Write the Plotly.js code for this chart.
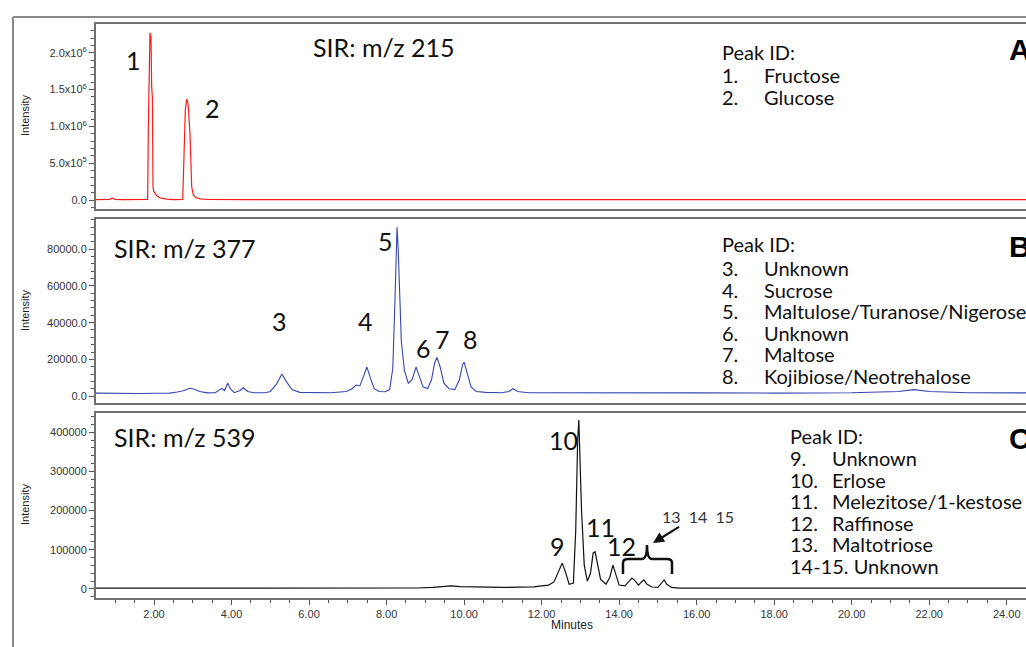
<!DOCTYPE html>
<html>
<head>
<meta charset="utf-8">
<script src="https://cdn.plot.ly/plotly-3.0.1.min.js"></script>
<style>
html,body{margin:0;padding:0;overflow:hidden;background:#fff;width:1026px;height:647px;}
#chart{width:1060px;height:647px;}
</style>
</head>
<body>
<div id="chart"></div>
<script>
// ---------- DATA ----------
// Panel A : SIR m/z 215 (red)
const timeA = [0.50,0.70,0.85,0.92,1.00,1.20,1.50,1.70,1.80,1.836,1.853,1.879,1.896,1.910,1.922,1.939,1.957,1.974,1.990,2.025,2.08,2.154,2.327,2.50,2.65,2.74,2.773,2.807,2.843,2.865,2.884,2.928,2.972,3.013,3.08,3.186,3.393,3.7,4.5,6,8,10,12,15,18,21,25.2];
const intA = [5000,5000,9000,25000,9000,5000,5000,5000,6000,9000,1000000,2100000,2270000,2250000,2200000,1550000,1400000,180000,120000,90000,55000,30000,12000,6000,5000,9000,590000,1220000,1370000,1340000,1270000,900000,180000,70000,35000,15000,7000,5000,5000,5000,5000,5000,5000,5000,5000,5000,5000];

// Panel B : SIR m/z 377 (blue)
const timeB = [0.50,0.8,1.2,1.6,2.0,2.4,2.6,2.78,2.92,3.02,3.18,3.38,3.58,3.68,3.75,3.82,3.90,3.97,4.07,4.22,4.30,4.42,4.57,4.87,5.0,5.16,5.30,5.41,5.56,5.76,6.16,6.56,6.96,7.11,7.21,7.31,7.41,7.49,7.58,7.68,7.81,7.96,8.08,8.16,8.21,8.25,8.27,8.30,8.33,8.38,8.46,8.56,8.66,8.76,8.84,8.94,9.06,9.16,9.24,9.30,9.38,9.48,9.61,9.76,9.88,9.96,10.00,10.08,10.18,10.31,10.56,10.96,11.16,11.26,11.38,11.66,12.5,14,16,18,20,21.2,21.6,22.0,23,25.2];
const intB = [1600,1500,1700,1400,1500,1600,2200,3000,4200,3800,2500,1700,1800,3500,4200,3000,7000,4000,1800,3000,4500,2500,1800,1800,2500,6500,12000,8000,3500,2000,1700,1800,2500,4000,6000,5500,11000,15800,10000,4000,2500,2300,3500,15000,48000,85000,92000,80000,58000,30000,14000,7000,9000,15800,11000,5000,4000,9000,18000,21000,16000,7000,4000,3500,9000,17000,18500,13000,5000,2500,2000,1800,2500,4000,2500,1800,1700,1800,1700,1600,1800,2500,3500,2500,1800,1700];

// Panel C : SIR m/z 539 (black)
const timeC = [0.5,2,4,6,8,8.8,9.2,9.5,9.66,9.9,10.2,10.6,11,11.4,11.8,12.0,12.18,12.32,12.42,12.53,12.61,12.71,12.82,12.88,12.93,12.96,12.99,13.03,13.1,13.18,13.26,13.33,13.38,13.44,13.52,13.66,13.76,13.84,13.92,14.0,14.15,14.25,14.33,14.40,14.5,14.58,14.64,14.72,14.85,15.0,15.1,15.16,15.23,15.35,15.55,17,20,25.2];
const intC = [2000,2000,2000,2000,2000,2500,4000,6000,8000,6000,5000,5500,4000,4500,5500,8000,10000,18000,40000,66000,45000,12000,15000,150000,380000,431000,330000,200000,60000,20000,40000,92000,95000,65000,25000,12000,30000,61000,35000,10000,8000,20000,28000,22000,10000,18000,23000,12000,5000,4000,15000,23000,12000,4000,2000,2000,2000,2000];

// Tick labels
const tickValsA = [0,500000,1000000,1500000,2000000];
const tickTextA = ["0.0","5.0x10<sup>5</sup>","1.0x10<sup>6</sup>","1.5x10<sup>6</sup>","2.0x10<sup>6</sup>"];
const tickValsB = [0,20000,40000,60000,80000];
const tickTextB = ["0.0","20000.0","40000.0","60000.0","80000.0"];
const tickValsC = [0,100000,200000,300000,400000];
const tickTextC = ["0","100000","200000","300000","400000"];

// Peak ID lists
const peakNumsA = ["1.","2."];
const peakNamesA = ["Fructose","Glucose"];
const peakNumsB = ["3.","4.","5.","6.","7.","8."];
const peakNamesB = ["Unknown","Sucrose","Maltulose/Turanose/Nigerose","Unknown","Maltose","Kojibiose/Neotrehalose"];
const peakNumsC = ["9.","10.","11.","12.","13.",""];
const peakNamesC = ["Unknown","Erlose","Melezitose/1-kestose","Raffinose","Maltotriose","14-15. Unknown"];

// ---------- LAYOUT ----------
const W=1060, H=647, L=96, R=10, T=24, B=49;
const PW=W-L-R, PH=H-T-B;
const fx = px => (px-L)/PW;
const fy = py => (H-B-py)/PH;
const lblFont = {family:"Lato, 'Open Sans', sans-serif", size:25, color:"#111"};
const idFont = {family:"Lato, 'Open Sans', sans-serif", size:20, color:"#111"};
const tickFont = {family:"'Liberation Sans Narrow','Liberation Sans', Arial, sans-serif", size:11, color:"#333"};
const bigFont = {family:"'Liberation Sans', Arial, sans-serif", size:30, color:'#000'};

const traces = [
  {x:timeA, y:intA, xaxis:'x', yaxis:'y', type:'scatter', mode:'lines', line:{color:'#ff1a1a', width:1.2}, hoverinfo:'skip'},
  {x:timeB, y:intB, xaxis:'x2', yaxis:'y2', type:'scatter', mode:'lines', line:{color:'#3646b0', width:1.1}, hoverinfo:'skip'},
  {x:timeC, y:intC, xaxis:'x3', yaxis:'y3', type:'scatter', mode:'lines', line:{color:'#111', width:1.2}, hoverinfo:'skip'}
];

const xr = [(L-76.5)/38.76, (W-R-76.5)/38.76];
function xax(anchor, showLabels){
  const a = {domain:[0,1], range:xr, anchor:anchor, showline:true, mirror:true, linecolor:'#707070', linewidth:2,
    showgrid:false, zeroline:false, fixedrange:true};
  if(showLabels){
    Object.assign(a,{ticks:'outside', ticklen:5, tickcolor:'#555', tickwidth:1, dtick:2, tick0:0, tickformat:'.2f',
      tickfont:tickFont, minor:{ticks:'outside', ticklen:3, dtick:0.5, tick0:0, tickcolor:'#555'}});
  } else {
    Object.assign(a,{ticks:'', showticklabels:false});
  }
  return a;
}
function yax(anchor, dom, range, vals, text, minorD){
  return {domain:dom, range:range, anchor:anchor, showline:true, mirror:true, linecolor:'#707070', linewidth:2,
    showgrid:false, zeroline:false, fixedrange:true, ticks:'outside', ticklen:5, tickcolor:'#555',
    tickmode:'array', tickvals:vals, ticktext:text, tickfont:tickFont,
    minor:{ticks:'outside', ticklen:3, tickmode:'linear', tick0:0, dtick:minorD, tickcolor:'#555'}};
}

const ann = [];
function txt(text, px, py, font, anchor){
  if(!text) return;
  ann.push({text:text, xref:'paper', yref:'paper', x:fx(px), y:fy(py), xanchor:anchor||'center', yanchor:'middle', showarrow:false, font:font});
}
// Panel A
txt("1",133,60,lblFont); txt("2",212,108,lblFont);
txt("SIR: m/z 215",311,47,lblFont,'left');
txt("Peak ID:",720,52,idFont,'left');
peakNumsA.forEach((n,i)=>{ txt(n,720,75+i*22,idFont,'left'); txt(peakNamesA[i],762,75+i*22,idFont,'left'); });
txt("<b>A</b>",1007,50,bigFont,'left');
// Panel B
txt("SIR: m/z 377",112,248,lblFont,'left');
[["3",279,321],["4",365,321],["5",385,241],["6",423,348],["7",442,339],["8",470,339]].forEach(a=>txt(a[0],a[1],a[2],lblFont));
txt("Peak ID:",720,244,idFont,'left');
peakNumsB.forEach((n,i)=>{ txt(n,720,268+i*21.6,idFont,'left'); txt(peakNamesB[i],762,268+i*21.6,idFont,'left'); });
txt("<b>B</b>",1007,246,bigFont,'left');
// Panel C
txt("SIR: m/z 539",112,437,lblFont,'left');
[["9",557,546],["10",563,440],["11",600,527],["12",621,546]].forEach(a=>txt(a[0],a[1],a[2],lblFont));
txt("13  14  15",660,516,{family:"Lato, 'Open Sans', sans-serif", size:16, color:'#333'},'left');
txt("Peak ID:",788,436,idFont,'left');
peakNamesC.forEach((nm,i)=>{
  if(peakNumsC[i]){ txt(peakNumsC[i],788,458+i*21.6,idFont,'left'); txt(nm,830,458+i*21.6,idFont,'left'); }
  else txt(nm,788,458+i*21.6,idFont,'left');
});
txt("<b>C</b>",1007,438,bigFont,'left');
// arrow
ann.push({text:' ', xref:'paper', yref:'paper', x:fx(653), y:fy(543), showarrow:true, arrowhead:2, arrowsize:1, arrowwidth:2.2,
  arrowcolor:'#111', ax:29, ay:-18});
// axis titles
[116, 311, 505].forEach(py=>{
  ann.push({text:'Intensity', xref:'paper', yref:'paper', x:fx(25), y:fy(py), textangle:-90, showarrow:false,
    xanchor:'center', yanchor:'middle', font:{family:"'Liberation Sans Narrow','Liberation Sans', Arial, sans-serif", size:11, color:'#222'}});
});
ann.push({text:'Minutes', xref:'paper', yref:'paper', x:fx(572), y:fy(625), showarrow:false, xanchor:'center', yanchor:'middle',
  font:{family:"'Liberation Sans Narrow','Liberation Sans', Arial, sans-serif", size:12, color:'#222'}});

// bracket path
const P = (px,py)=> fx(px).toFixed(5)+','+fy(py).toFixed(5);
const bracket = 'M '+P(623,574)+' L '+P(623,563)+' Q '+P(623,559)+' '+P(628,559)+' L '+P(642,559)+' Q '+P(647,559)+' '+P(647,545)+
  ' Q '+P(647,559)+' '+P(652,559)+' L '+P(667,559)+' Q '+P(672,559)+' '+P(672,563)+' L '+P(672,574);

const shapes = [
  {type:'path', xref:'paper', yref:'paper', path:bracket, line:{color:'#111', width:2.5}},
  {type:'line', xref:'paper', yref:'paper', x0:fx(13), y0:fy(17), x1:fx(1060), y1:fy(17), line:{color:'#8a8a8a', width:2}},
  {type:'line', xref:'paper', yref:'paper', x0:fx(13), y0:fy(17), x1:fx(13), y1:fy(660), line:{color:'#8a8a8a', width:2}}
];

const layout = {
  width:W, height:H, margin:{l:L, r:R, t:T, b:B, pad:0}, showlegend:false,
  paper_bgcolor:'#fff', plot_bgcolor:'#fff',
  xaxis:xax('y',false), xaxis2:xax('y2',false), xaxis3:xax('y3',true),
  yaxis:yax('x',[fy(209),1],[-122000,2391000],tickValsA,tickTextA,100000),
  yaxis2:yax('x2',[fy(403),fy(219)],[-3800,96500],tickValsB,tickTextB,4000),
  yaxis3:yax('x3',[0,fy(413)],[-23000,449000],tickValsC,tickTextC,20000),
  annotations:ann, shapes:shapes
};
Plotly.newPlot('chart', traces, layout, {staticPlot:true, displayModeBar:false});
</script>
</body>
</html>
